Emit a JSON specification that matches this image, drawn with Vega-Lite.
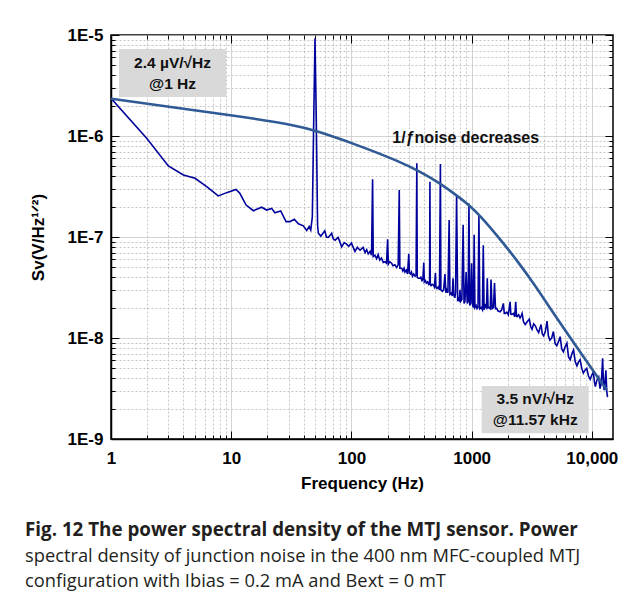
{
  "$schema": "https://vega.github.io/schema/vega-lite/v6.json",
  "width": 502,
  "height": 404,
  "autosize": {"type": "none"},
  "padding": {"left": 111, "top": 35, "right": 14, "bottom": 162},
  "background": "white",
  "config": {
    "view": {"stroke": "#000", "strokeWidth": 1.5},
    "font": "Liberation Sans"
  },
  "title": {
    "text": "Fig. 12 The power spectral density of the MTJ sensor. Power",
    "subtitle": ["spectral density of junction noise in the 400 nm MFC-coupled MTJ", "configuration with Ibias = 0.2 mA and Bext = 0 mT"],
    "orient": "bottom",
    "anchor": "start",
    "frame": "group",
    "dx": -86,
    "offset": 30,
    "font": "Open Sans",
    "fontSize": 18.8,
    "fontWeight": "bold",
    "color": "#231f20",
    "subtitleFont": "Open Sans",
    "subtitleFontSize": 18.3,
    "subtitleColor": "#231f20",
    "subtitleLineHeight": 25,
    "subtitlePadding": 8
  },
  "datasets": {
    "noise": [
      {"f": 1, "v": 2.36e-6}, {"f": 1.98, "v": 9.5e-7}, {"f": 3.0, "v": 5.05e-7}, {"f": 4.0, "v": 4.11e-7},
      {"f": 5.0, "v": 3.81e-7}, {"f": 6.25, "v": 3.15e-7}, {"f": 7.8, "v": 2.55e-7}, {"f": 9.17, "v": 2.75e-7},
      {"f": 10.96, "v": 2.96e-7}, {"f": 11.8, "v": 2.71e-7}, {"f": 13.3, "v": 2.07e-7}, {"f": 15.3, "v": 1.82e-7},
      {"f": 17.9, "v": 1.97e-7}, {"f": 19.7, "v": 1.85e-7}, {"f": 21.7, "v": 1.92e-7}, {"f": 23.1, "v": 1.74e-7},
      {"f": 25.8, "v": 1.81e-7}, {"f": 28.6, "v": 1.42e-7}, {"f": 30.8, "v": 1.42e-7}, {"f": 33.5, "v": 1.5e-7},
      {"f": 36.2, "v": 1.35e-7}, {"f": 39.8, "v": 1.29e-7}, {"f": 42.5, "v": 1.16e-7}, {"f": 44.5, "v": 1.27e-7},
      {"f": 45.9, "v": 1.17e-7}, {"f": 47.3, "v": 1.58e-7}, {"f": 48.6, "v": 1.5e-6}, {"f": 49.8, "v": 9.3e-6},
      {"f": 51.0, "v": 1.5e-6}, {"f": 52.3, "v": 1.3e-7}, {"f": 53.1, "v": 1.09e-7}, {"f": 55.6, "v": 1.02e-7},
      {"f": 58.4, "v": 1.1e-7}, {"f": 60, "v": 1.15e-7}, {"f": 62, "v": 1.0e-7}, {"f": 64.3, "v": 9.9e-8},
      {"f": 68.5, "v": 1.09e-7}, {"f": 70.5, "v": 9.6e-8}, {"f": 73.2, "v": 9.3e-8}, {"f": 77.5, "v": 9.9e-8},
      {"f": 80, "v": 9.0e-8}, {"f": 83, "v": 8.0e-8}, {"f": 87, "v": 8.8e-8}, {"f": 91.2, "v": 8.5e-8},
      {"f": 95, "v": 8.1e-8}, {"f": 100, "v": 8.7e-8}, {"f": 104, "v": 7.8e-8}, {"f": 107, "v": 7.2e-8},
      {"f": 112, "v": 7.9e-8}, {"f": 118, "v": 7.4e-8}, {"f": 125, "v": 7.9e-8}, {"f": 130, "v": 7.0e-8},
      {"f": 134, "v": 7.5e-8}, {"f": 138, "v": 6.8e-8}, {"f": 143, "v": 7.2e-8}, {"f": 147, "v": 6.6e-8},
      {"f": 150, "v": 3.72e-7}, {"f": 152, "v": 6.4e-8}, {"f": 157, "v": 6.6e-8}, {"f": 162, "v": 6.1e-8},
      {"f": 167, "v": 6.7e-8}, {"f": 172, "v": 5.9e-8}, {"f": 178, "v": 6.2e-8}, {"f": 184, "v": 5.6e-8},
      {"f": 190, "v": 5.7e-8}, {"f": 196, "v": 5.5e-8}, {"f": 200, "v": 9.5e-8}, {"f": 203, "v": 5.4e-8},
      {"f": 208, "v": 5.7e-8}, {"f": 216, "v": 5.5e-8}, {"f": 222, "v": 5.2e-8}, {"f": 230, "v": 5.3e-8},
      {"f": 238, "v": 5.0e-8}, {"f": 245, "v": 5.3e-8}, {"f": 250, "v": 2.92e-7}, {"f": 253, "v": 4.9e-8},
      {"f": 262, "v": 4.9e-8}, {"f": 268, "v": 4.6e-8}, {"f": 274, "v": 4.9e-8}, {"f": 279, "v": 4.5e-8},
      {"f": 286, "v": 4.7e-8}, {"f": 293, "v": 4.3e-8}, {"f": 300, "v": 6.8e-8}, {"f": 304, "v": 4.4e-8},
      {"f": 310, "v": 4.3e-8}, {"f": 316, "v": 4.5e-8}, {"f": 322, "v": 4.1e-8}, {"f": 330, "v": 4.3e-8},
      {"f": 338, "v": 4.1e-8}, {"f": 345, "v": 4.2e-8}, {"f": 350, "v": 5.37e-7}, {"f": 353, "v": 4.0e-8},
      {"f": 360, "v": 3.9e-8}, {"f": 370, "v": 3.9e-8}, {"f": 378, "v": 4.0e-8}, {"f": 386, "v": 3.7e-8},
      {"f": 393, "v": 3.8e-8}, {"f": 400, "v": 5.6e-8}, {"f": 404, "v": 3.6e-8}, {"f": 412, "v": 3.7e-8},
      {"f": 420, "v": 3.5e-8}, {"f": 430, "v": 3.6e-8}, {"f": 440, "v": 3.4e-8}, {"f": 447, "v": 3.5e-8},
      {"f": 450, "v": 3.53e-7}, {"f": 453, "v": 3.4e-8}, {"f": 460, "v": 3.3e-8}, {"f": 470, "v": 3.4e-8},
      {"f": 480, "v": 3.35e-8}, {"f": 490, "v": 3.2e-8}, {"f": 500, "v": 4.4e-8}, {"f": 505, "v": 3.2e-8},
      {"f": 515, "v": 3.1e-8}, {"f": 527, "v": 3.2e-8}, {"f": 540, "v": 3.0e-8}, {"f": 550, "v": 5.28e-7},
      {"f": 555, "v": 3.0e-8}, {"f": 570, "v": 2.9e-8}, {"f": 585, "v": 3.0e-8}, {"f": 600, "v": 4.3e-8},
      {"f": 610, "v": 2.8e-8}, {"f": 620, "v": 3.0e-8}, {"f": 635, "v": 2.8e-8}, {"f": 650, "v": 1.47e-7},
      {"f": 660, "v": 2.7e-8}, {"f": 680, "v": 2.8e-8}, {"f": 690, "v": 2.6e-8}, {"f": 700, "v": 3.9e-8},
      {"f": 710, "v": 2.7e-8}, {"f": 725, "v": 2.5e-8}, {"f": 735, "v": 2.8e-8}, {"f": 750, "v": 2.6e-7},
      {"f": 765, "v": 2.4e-8}, {"f": 778, "v": 2.47e-8}, {"f": 790, "v": 2.3e-8}, {"f": 800, "v": 3.0e-8},
      {"f": 810, "v": 2.3e-8}, {"f": 830, "v": 2.4e-8}, {"f": 850, "v": 1.32e-7}, {"f": 865, "v": 2.2e-8},
      {"f": 880, "v": 2.3e-8}, {"f": 900, "v": 4.5e-8}, {"f": 920, "v": 2.2e-8}, {"f": 935, "v": 2.3e-8},
      {"f": 950, "v": 2.15e-7}, {"f": 965, "v": 2.1e-8}, {"f": 985, "v": 2.2e-8}, {"f": 1000, "v": 5.5e-8},
      {"f": 1020, "v": 2.1e-8}, {"f": 1035, "v": 2.0e-8}, {"f": 1050, "v": 1.05e-7}, {"f": 1065, "v": 2.0e-8},
      {"f": 1090, "v": 2.1e-8}, {"f": 1110, "v": 1.95e-8}, {"f": 1130, "v": 2.0e-8}, {"f": 1150, "v": 1.62e-7},
      {"f": 1170, "v": 1.95e-8}, {"f": 1200, "v": 2.0e-8}, {"f": 1230, "v": 1.9e-8}, {"f": 1250, "v": 8.3e-8},
      {"f": 1270, "v": 1.9e-8}, {"f": 1300, "v": 2.1e-8}, {"f": 1330, "v": 2.0e-8}, {"f": 1350, "v": 3.9e-8},
      {"f": 1370, "v": 2.0e-8}, {"f": 1400, "v": 2.0e-8}, {"f": 1430, "v": 1.95e-8}, {"f": 1450, "v": 3.8e-8},
      {"f": 1480, "v": 1.95e-8}, {"f": 1520, "v": 2.0e-8}, {"f": 1550, "v": 3.5e-8}, {"f": 1580, "v": 1.95e-8},
      {"f": 1615, "v": 1.97e-8}, {"f": 1660, "v": 1.85e-8}, {"f": 1722, "v": 1.82e-8}, {"f": 1780, "v": 1.9e-8},
      {"f": 1837, "v": 2.2e-8}, {"f": 1870, "v": 1.75e-8}, {"f": 1905, "v": 1.75e-8}, {"f": 1960, "v": 1.8e-8},
      {"f": 2020, "v": 1.7e-8}, {"f": 2089, "v": 2.28e-8}, {"f": 2120, "v": 1.72e-8}, {"f": 2155, "v": 1.71e-8},
      {"f": 2230, "v": 1.75e-8}, {"f": 2280, "v": 1.62e-8}, {"f": 2328, "v": 2.28e-8}, {"f": 2360, "v": 1.65e-8},
      {"f": 2390, "v": 1.63e-8}, {"f": 2460, "v": 1.7e-8}, {"f": 2529, "v": 1.58e-8}, {"f": 2580, "v": 1.65e-8},
      {"f": 2630, "v": 1.75e-8}, {"f": 2700, "v": 1.45e-8}, {"f": 2790, "v": 1.36e-8}, {"f": 2900, "v": 1.45e-8},
      {"f": 3020, "v": 1.54e-8}, {"f": 3100, "v": 1.3e-8}, {"f": 3180, "v": 1.22e-8}, {"f": 3280, "v": 1.38e-8},
      {"f": 3390, "v": 1.32e-8}, {"f": 3500, "v": 1.2e-8}, {"f": 3610, "v": 1.13e-8}, {"f": 3700, "v": 1.25e-8},
      {"f": 3780, "v": 1.36e-8}, {"f": 3870, "v": 1.1e-8}, {"f": 3970, "v": 1.05e-8}, {"f": 4100, "v": 1.15e-8},
      {"f": 4240, "v": 1.47e-8}, {"f": 4350, "v": 1.05e-8}, {"f": 4480, "v": 9.5e-9}, {"f": 4640, "v": 1.0e-8},
      {"f": 4790, "v": 1.16e-8}, {"f": 4950, "v": 8.8e-9}, {"f": 5110, "v": 8.4e-9}, {"f": 5280, "v": 9.2e-9},
      {"f": 5450, "v": 1.03e-8}, {"f": 5620, "v": 7.8e-9}, {"f": 5800, "v": 7.3e-9}, {"f": 6000, "v": 8.2e-9},
      {"f": 6200, "v": 8.9e-9}, {"f": 6400, "v": 6.5e-9}, {"f": 6610, "v": 6.1e-9}, {"f": 6830, "v": 7.0e-9},
      {"f": 7050, "v": 7.6e-9}, {"f": 7280, "v": 5.8e-9}, {"f": 7520, "v": 5.3e-9}, {"f": 7750, "v": 5.8e-9},
      {"f": 7990, "v": 6.1e-9}, {"f": 8250, "v": 5.0e-9}, {"f": 8500, "v": 4.5e-9}, {"f": 8780, "v": 4.8e-9},
      {"f": 9070, "v": 5.0e-9}, {"f": 9380, "v": 4.2e-9}, {"f": 9690, "v": 3.9e-9}, {"f": 10000, "v": 4.3e-9},
      {"f": 10300, "v": 4.6e-9}, {"f": 10500, "v": 3.7e-9}, {"f": 10700, "v": 3.3e-9}, {"f": 11000, "v": 3.8e-9},
      {"f": 11400, "v": 4.1e-9}, {"f": 11700, "v": 3.15e-9}, {"f": 12000, "v": 3.6e-9}, {"f": 12300, "v": 6.3e-9},
      {"f": 12500, "v": 3.4e-9}, {"f": 12700, "v": 3.05e-9}, {"f": 13100, "v": 4.8e-9}, {"f": 13300, "v": 3.0e-9},
      {"f": 13500, "v": 2.6e-9}
    ],
    "curve": [
      {"f": 1, "v": 2.34e-6}, {"f": 2.98, "v": 1.95e-6}, {"f": 10, "v": 1.61e-6}, {"f": 37.4, "v": 1.26e-6},
      {"f": 50.7, "v": 1.12e-6}, {"f": 100, "v": 8.6e-7}, {"f": 254, "v": 5.57e-7}, {"f": 372, "v": 4.43e-7},
      {"f": 546, "v": 3.4e-7}, {"f": 751, "v": 2.58e-7}, {"f": 970, "v": 2.03e-7}, {"f": 1175, "v": 1.63e-7},
      {"f": 1722, "v": 9.55e-8}, {"f": 2373, "v": 5.91e-8}, {"f": 3260, "v": 3.51e-8}, {"f": 4487, "v": 1.98e-8},
      {"f": 6180, "v": 1.13e-8}, {"f": 8500, "v": 6.56e-9}, {"f": 10970, "v": 4.21e-9}, {"f": 13340, "v": 3.06e-9}
    ],
    "boxes": [
      {"x1": 1.166, "x2": 9.06, "y1": 2.43e-6, "y2": 7.26e-6},
      {"x1": 1213, "x2": 9420, "y1": 1.14e-9, "y2": 3.35e-9}
    ],
    "boxText": [
      {"f": 3.25, "v": 4.2e-6, "t": "2.4 µV/√Hz\n@1 Hz"},
      {"f": 3381, "v": 1.95e-9, "t": "3.5 nV/√Hz\n@11.57 kHz"}
    ],
    "note": [
      {"f": 893, "v": 9.5e-7, "t": "1/ƒnoise decreases"}
    ]
  },
  "resolve": {"axis": {"x": "independent", "y": "independent"}},
  "layer": [
    {
      "data": {"name": "boxes"},
      "mark": {"type": "rect", "color": "#d9d9d9"},
      "encoding": {
        "x": {"field": "x1", "type": "quantitative", "scale": {"type": "log", "domain": [1, 15000], "nice": false}, "axis": null},
        "x2": {"field": "x2"},
        "y": {"field": "y1", "type": "quantitative", "scale": {"type": "log", "domain": [1e-9, 1e-5], "nice": false}, "axis": null},
        "y2": {"field": "y2"}
      }
    },
    {
      "data": {"name": "noise"},
      "mark": {"type": "line", "color": "#00009c", "strokeWidth": 1.6, "clip": true},
      "encoding": {
        "x": {
          "field": "f", "type": "quantitative",
          "scale": {"type": "log", "domain": [1, 15000], "nice": false},
          "axis": {
            "title": "Frequency (Hz)",
            "values": [1,2,3,4,5,6,7,8,9,10,20,30,40,50,60,70,80,90,100,200,300,400,500,600,700,800,900,1000,2000,3000,4000,5000,6000,7000,8000,9000,10000],
            "labelExpr": "abs(log(datum.value)/LN10 - round(log(datum.value)/LN10)) < 0.001 ? (datum.value >= 10000 ? '10,000' : format(datum.value, 'd')) : ''",
            "grid": true,
            "gridColor": "#c4c4c4",
            "gridWidth": 1,
            "gridDash": {"condition": {"test": "abs(log(datum.value)/LN10 - round(log(datum.value)/LN10)) < 0.001", "value": [1, 0]}, "value": [2, 2]},
            "tickSize": {"condition": {"test": "abs(log(datum.value)/LN10 - round(log(datum.value)/LN10)) < 0.001", "value": -8}, "value": -4},
            "tickColor": "#000",
            "domainColor": "#000",
            "domainWidth": 1.5,
            "labelFont": "Liberation Sans", "labelFontSize": 17, "labelFontWeight": "bold", "labelColor": "#000",
            "labelPadding": 19, "labelFlush": false, "labelOverlap": false,
            "titleFont": "Liberation Sans", "titleFontSize": 17, "titleFontWeight": "bold", "titleColor": "#000",
            "titlePadding": 5
          }
        },
        "y": {
          "field": "v", "type": "quantitative",
          "scale": {"type": "log", "domain": [1e-9, 1e-5], "nice": false},
          "axis": {
            "title": "Sv(V/Hz¹ᐟ²)",
            "values": [1e-9,2e-9,3e-9,4e-9,5e-9,6e-9,7e-9,8e-9,9e-9,1e-8,2e-8,3e-8,4e-8,5e-8,6e-8,7e-8,8e-8,9e-8,1e-7,2e-7,3e-7,4e-7,5e-7,6e-7,7e-7,8e-7,9e-7,1e-6,2e-6,3e-6,4e-6,5e-6,6e-6,7e-6,8e-6,9e-6,1e-5],
            "labelExpr": "abs(log(datum.value)/LN10 - round(log(datum.value)/LN10)) < 0.001 ? '1E-' + round(-log(datum.value)/LN10) : ''",
            "grid": true,
            "gridColor": "#c4c4c4",
            "gridWidth": 1,
            "gridDash": {"condition": {"test": "abs(log(datum.value)/LN10 - round(log(datum.value)/LN10)) < 0.001", "value": [1, 0]}, "value": [2, 2]},
            "tickSize": {"condition": {"test": "abs(log(datum.value)/LN10 - round(log(datum.value)/LN10)) < 0.001", "value": -8}, "value": -4},
            "tickColor": "#000",
            "domainColor": "#000",
            "domainWidth": 1.5,
            "labelFont": "Liberation Sans", "labelFontSize": 17, "labelFontWeight": "bold", "labelColor": "#000",
            "labelPadding": 16, "labelFlush": false, "labelOverlap": false,
            "titleFont": "Liberation Sans", "titleFontSize": 17, "titleFontWeight": "bold", "titleColor": "#000",
            "titlePadding": 20
          }
        }
      }
    },
    {
      "data": {"name": "curve"},
      "mark": {"type": "line", "color": "#2f5a96", "strokeWidth": 2.6, "interpolate": "basis"},
      "encoding": {
        "x": {
          "field": "f", "type": "quantitative",
          "scale": {"type": "log", "domain": [1, 15000], "nice": false},
          "axis": {
            "orient": "top", "title": null, "labels": false, "grid": false, "domain": false,
            "values": [1,2,3,4,5,6,7,8,9,10,20,30,40,50,60,70,80,90,100,200,300,400,500,600,700,800,900,1000,2000,3000,4000,5000,6000,7000,8000,9000,10000],
            "tickSize": {"condition": {"test": "abs(log(datum.value)/LN10 - round(log(datum.value)/LN10)) < 0.001", "value": -8}, "value": -4},
            "tickColor": "#000"
          }
        },
        "y": {
          "field": "v", "type": "quantitative",
          "scale": {"type": "log", "domain": [1e-9, 1e-5], "nice": false},
          "axis": {
            "orient": "right", "title": null, "labels": false, "grid": false, "domain": false,
            "values": [1e-9,2e-9,3e-9,4e-9,5e-9,6e-9,7e-9,8e-9,9e-9,1e-8,2e-8,3e-8,4e-8,5e-8,6e-8,7e-8,8e-8,9e-8,1e-7,2e-7,3e-7,4e-7,5e-7,6e-7,7e-7,8e-7,9e-7,1e-6,2e-6,3e-6,4e-6,5e-6,6e-6,7e-6,8e-6,9e-6,1e-5],
            "tickSize": {"condition": {"test": "abs(log(datum.value)/LN10 - round(log(datum.value)/LN10)) < 0.001", "value": -8}, "value": -4},
            "tickColor": "#000"
          }
        }
      }
    },
    {
      "data": {"name": "boxText"},
      "mark": {"type": "text", "font": "Liberation Sans", "fontWeight": "bold", "fontSize": 15.5, "lineBreak": "\n", "lineHeight": 21, "align": "center", "baseline": "middle", "dy": -10.5, "color": "#111"},
      "encoding": {
        "x": {"field": "f", "type": "quantitative", "scale": {"type": "log", "domain": [1, 15000], "nice": false}, "axis": null},
        "y": {"field": "v", "type": "quantitative", "scale": {"type": "log", "domain": [1e-9, 1e-5], "nice": false}, "axis": null},
        "text": {"field": "t"}
      }
    },
    {
      "data": {"name": "note"},
      "mark": {"type": "text", "font": "Liberation Sans", "fontWeight": "bold", "fontSize": 16, "align": "center", "baseline": "middle", "color": "#111"},
      "encoding": {
        "x": {"field": "f", "type": "quantitative", "scale": {"type": "log", "domain": [1, 15000], "nice": false}, "axis": null},
        "y": {"field": "v", "type": "quantitative", "scale": {"type": "log", "domain": [1e-9, 1e-5], "nice": false}, "axis": null},
        "text": {"field": "t"}
      }
    }
  ]
}
